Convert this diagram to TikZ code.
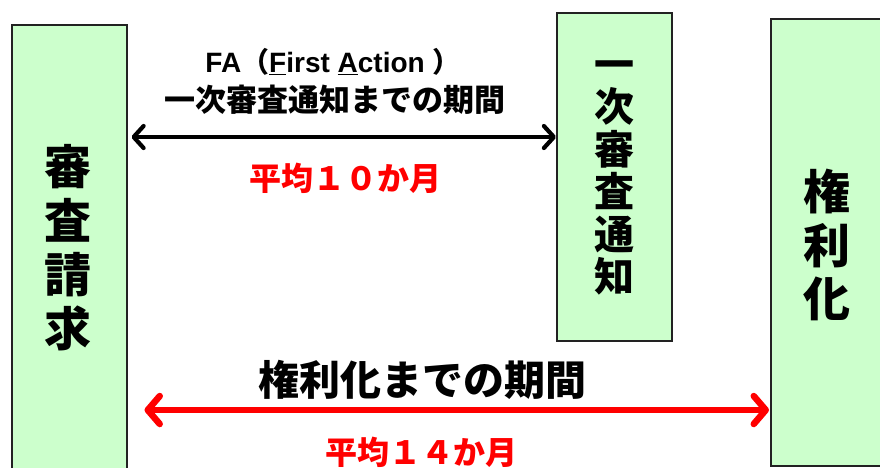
\documentclass[tikz,border=0pt]{standalone}
\usepackage{fontspec}
\setmainfont{Liberation Sans}
\newfontfamily\jp{Noto Sans CJK JP}
\usetikzlibrary{arrows.meta}
\definecolor{boxgreen}{HTML}{CCFFCC}
\definecolor{boxline}{HTML}{222222}
\begin{document}
\begin{tikzpicture}[x=1pt,y=-1pt,
  box/.style={draw=boxline, line width=1.5pt, fill=boxgreen, anchor=north west, inner sep=0pt},
  vtext/.style={align=center, inner sep=0pt, font=\jp\bfseries},
  lbl/.style={inner sep=0pt, font=\bfseries},
  blackarrow/.style={line width=4.2pt, black, {Straight Barb[length=10pt,width=22pt,round]}-{Straight Barb[length=10pt,width=22pt,round]}},
  redarrow/.style={line width=6.5pt, red, {Straight Barb[length=12pt,width=28pt,round]}-{Straight Barb[length=12pt,width=28pt,round]}}]
\useasboundingbox (0,0) rectangle (880,467);
\node[box, minimum width=115pt, minimum height=470pt] (req) at (11,24) {};
\node[box, minimum width=115pt, minimum height=328pt] (fa) at (556,12) {};
\node[box, minimum width=130pt, minimum height=447pt] (grant) at (770,18) {};
\node[vtext, font=\jp\bfseries\fontsize{47}{54}\selectfont] (reqt) at (68,248) {審\\査\\請\\求};
\node[vtext, font=\jp\bfseries\fontsize{40}{42.4}\selectfont] (fat) at (614,178) {一\\次\\審\\査\\通\\知};
\node[vtext, font=\jp\bfseries\fontsize{47}{53.5}\selectfont] (grantt) at (827,245) {権\\利\\化};
\node[lbl, font=\bfseries\fontsize{28}{32}\selectfont] (t1) at (333,62) {FA{\jp（}\underline{F}irst \underline{A}ction {\jp）}};
\node[lbl, font=\jp\bfseries\fontsize{31}{34}\selectfont] (t2) at (335,100) {一次審査通知までの期間};
\node[lbl, font=\jp\bfseries\fontsize{32}{36}\selectfont, text=red] (t3) at (345,178) {平均１０か月};
\node[lbl, font=\jp\bfseries\fontsize{41}{46}\selectfont] (t4) at (422,380) {権利化までの期間};
\node[lbl, font=\jp\bfseries\fontsize{32}{36}\selectfont, text=red] (t5) at (421,452) {平均１４か月};
\draw[blackarrow, shorten <=4pt] (req.east |- 0,137) -- (fa.west |- 0,137);
\draw[redarrow, shorten <=17pt, shorten >=1pt] (req.east |- 0,410) -- (grant.west |- 0,410);
\end{tikzpicture}
\end{document}
